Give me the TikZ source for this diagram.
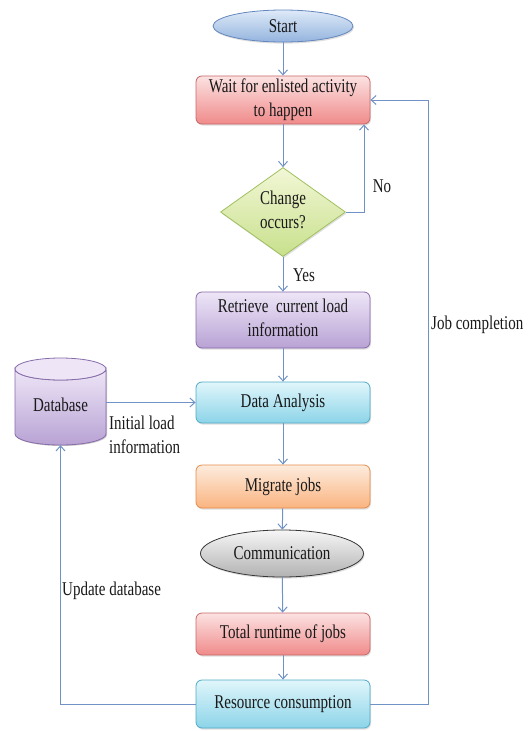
\documentclass[tikz,border=0pt]{standalone}
\usepackage{fontspec}
\setmainfont{Liberation Serif}
\usepackage{graphicx}
\usetikzlibrary{shapes.geometric,arrows.meta,shadows}
\newcommand{\vs}[1]{\scalebox{1}[1.3]{#1}}
\newcommand{\twol}[2]{\vs{\begin{tabular}{@{}c@{}}#1\\#2\end{tabular}}}
\definecolor{lineC}{RGB}{112,146,198}
\definecolor{txtC}{RGB}{25,25,25}
\definecolor{redT}{RGB}{252,226,226}\definecolor{redB}{RGB}{240,138,138}\definecolor{redD}{RGB}{200,105,105}
\definecolor{bluT}{RGB}{222,234,248}\definecolor{bluB}{RGB}{148,180,222}\definecolor{bluD}{RGB}{100,135,190}
\definecolor{grnT}{RGB}{242,247,214}\definecolor{grnB}{RGB}{200,224,140}\definecolor{grnD}{RGB}{160,192,95}
\definecolor{purT}{RGB}{238,230,247}\definecolor{purB}{RGB}{184,162,212}\definecolor{purD}{RGB}{135,108,170}
\definecolor{cyaT}{RGB}{224,246,251}\definecolor{cyaB}{RGB}{140,212,232}\definecolor{cyaD}{RGB}{80,170,198}
\definecolor{oraT}{RGB}{253,236,222}\definecolor{oraB}{RGB}{250,180,128}\definecolor{oraD}{RGB}{228,140,75}
\definecolor{gryT}{RGB}{246,246,246}\definecolor{gryB}{RGB}{178,178,178}\definecolor{gryD}{RGB}{55,55,55}
\tikzset{
  base/.style={font=\fontsize{15}{18.5}\selectfont, text=txtC, inner sep=0pt, line width=0.8pt,
     drop shadow={shadow xshift=1pt, shadow yshift=-1.6pt, opacity=0.25}},
  boxN/.style={base, rectangle, rounded corners=6pt, minimum width=174pt},
  redbox/.style={boxN, top color=redT, bottom color=redB, draw=redD},
  purbox/.style={boxN, top color=purT, bottom color=purB, draw=purD},
  cyabox/.style={boxN, top color=cyaT, bottom color=cyaB, draw=cyaD},
  orabox/.style={boxN, top color=oraT, bottom color=oraB, draw=oraD},
  ellN/.style={base, ellipse},
  conn/.style={draw=lineC, line width=1pt, -{Straight Barb[length=5pt,width=9pt]}},
  plain/.style={draw=lineC, line width=1pt},
  lbl/.style={font=\fontsize{15}{18.5}\selectfont, text=txtC, inner sep=0pt}
}
\begin{document}
\begin{tikzpicture}[x=1pt,y=-1pt]
\useasboundingbox (0,0) rectangle (531,731);
\node[ellN, top color=bluT, bottom color=bluB, draw=bluD, minimum width=140pt, minimum height=32pt] (start) at (283,26) {\vs{Start}};
\node[redbox, minimum height=47pt] (wait) at (283,100) {\twol{Wait for enlisted activity}{to happen}};
\node[base, diamond, top color=grnT, bottom color=grnB, draw=grnD, minimum width=125pt, minimum height=89pt, aspect=1.4] (dia) at (283,212) {\twol{Change}{occurs?}};
\node[purbox, minimum height=56pt] (ret) at (283,320) {\twol{Retrieve\ \ current load}{information}};
\node[cyabox, minimum height=41pt] (data) at (283,402.5) {\vs{Data Analysis}};
\node[orabox, minimum height=43pt] (mig) at (283,486.5) {\vs{Migrate jobs}};
\node[ellN, top color=gryT, bottom color=gryB, draw=gryD, minimum width=163pt, minimum height=47pt] (comm) at (282,553.5) {\vs{Communication}};
\node[redbox, minimum height=42pt] (tot) at (283,634) {\vs{Total runtime of jobs}};
\node[cyabox, minimum height=48pt] (res) at (283,704) {\vs{Resource consumption}};
% database cylinder
\node[minimum width=91pt, minimum height=87pt, inner sep=0pt] (db) at (60.5,401.5) {};
\fill[black, opacity=0.22] (16,370) -- (16,435) arc[start angle=180, end angle=360, x radius=45.5pt, y radius=11pt] -- (107,370) -- cycle;
\shade[top color=purT, bottom color=purB, draw=purD, line width=0.8pt]
  (15,369) -- (15,434) arc[start angle=180, end angle=360, x radius=45.5pt, y radius=11pt] -- (106,369)
  arc[start angle=0, end angle=-180, x radius=45.5pt, y radius=11pt] -- cycle;
\draw[draw=purD, line width=0.8pt, fill=purT] (60.5,369) ellipse[x radius=45.5pt, y radius=11pt];
\node[lbl] (dbt) at (60.5,405) {\vs{Database}};
% connectors
\draw[conn] (start) -- (wait);
\draw[conn] (wait) -- (dia);
\draw[conn] (dia) -- (ret);
\draw[conn] (ret) -- (data);
\draw[conn] (data) -- (mig);
\draw[conn] (mig) -- (comm);
\draw[conn] (comm) -- (tot);
\draw[conn] (tot) -- (res);
\coordinate (nox) at (364,0);
\draw[conn] (dia.east) -| (nox |- wait.south);
\draw[conn] (db.east |- data.west) -- (data.west);
\coordinate (jcx) at (428,0);
\draw[conn] (res.east) -| (jcx |- wait.east) -- (wait.east);
\coordinate (udx) at (60,0);
\draw[conn] (res.west) -| (db.south);
% labels
\node[lbl] (no) at (382,186) {\vs{No}};
\node[lbl] (yes) at (304,275) {\vs{Yes}};
\node[lbl, anchor=west] (ili) at (109,437) {\vs{\begin{tabular}{@{}l@{}}Initial load\\information\end{tabular}}};
\node[lbl, anchor=west] (upd) at (62,591) {\vs{Update database}};
\node[lbl, anchor=west] (jc) at (431,325) {\vs{Job completion}};
\end{tikzpicture}
\end{document}
